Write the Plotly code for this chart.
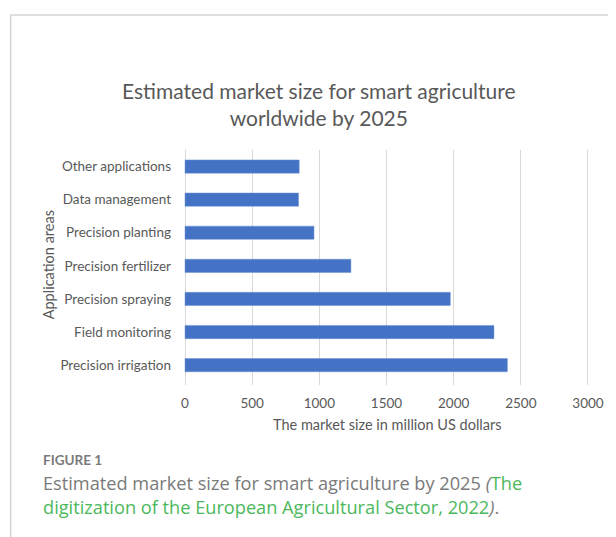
import plotly.graph_objects as go

categories = ["Precision irrigation", "Field monitoring", "Precision spraying",
              "Precision fertilizer", "Precision planting", "Data management",
              "Other applications"]
values = [2400, 2300, 1975, 1235, 960, 845, 850]
x_ticks = [0, 500, 1000, 1500, 2000, 2500, 3000]
x_range = [-30, 3030]

# page has an 8px body margin: figure drawn at offset (8, 8)
OFF = 8
W, H = 616 - OFF, 537 - OFF
ML, MR, MT, MB = 181 - OFF, 20, 150 - OFF, 152
PW, PH = W - ML - MR, H - MT - MB

def px(x):
    return (x - OFF - ML) / PW

def py(y):
    return 1 - (y - OFF - MT) / PH

TXT = "#595959"
FONT = "Lato"

fig = go.Figure(go.Bar(
    x=values, y=categories, orientation="h",
    marker=dict(color="#4472C4", line=dict(color="#6f93d6", width=0.5)),
    width=0.4,
))

fig.update_layout(
    width=W, height=H,
    margin=dict(l=ML, r=MR, t=MT, b=MB),
    paper_bgcolor="white", plot_bgcolor="white",
    showlegend=False,
    font=dict(family=FONT, color=TXT, size=13),
    xaxis=dict(range=x_range, tickvals=x_ticks, ticktext=[str(v) for v in x_ticks],
               showgrid=True, gridcolor="#d9d9d9", gridwidth=1.2, zeroline=False,
               showline=False, ticklabelstandoff=8,
               tickfont=dict(family=FONT, size=13.5, color=TXT)),
    yaxis=dict(categoryorder="array", categoryarray=categories,
               range=[-0.6, 6.5], showgrid=False, zeroline=False,
               showline=False, ticklabelstandoff=9,
               tickfont=dict(family=FONT, size=13.5, color=TXT)),
)

ann = []
ann.append(dict(text="Estimated market size for smart agriculture<br>worldwide by 2025",
                x=px(320), y=py(104), xref="paper", yref="paper",
                xanchor="center", yanchor="middle", showarrow=False,
                font=dict(family=FONT, size=21, color=TXT)))
ann.append(dict(text="The market size in million US dollars",
                x=px(390), y=py(424), xref="paper", yref="paper",
                xanchor="center", yanchor="middle", showarrow=False,
                font=dict(family=FONT, size=14.5, color=TXT)))
ann.append(dict(text="Application areas", textangle=-90,
                x=px(47), y=py(265), xref="paper", yref="paper",
                xanchor="center", yanchor="middle", showarrow=False,
                font=dict(family=FONT, size=14.5, color=TXT)))
ann.append(dict(text="<b>FIGURE 1</b>",
                x=px(40), y=py(460), xref="paper", yref="paper",
                xanchor="left", yanchor="middle", showarrow=False,
                font=dict(family=FONT, size=13.5, color="#7a7a7a")))
GREEN = "#4cb85c"
ann.append(dict(text="Estimated market size for smart agriculture by 2025 <i>(</i>"
                     f"<span style='color:{GREEN}'>The</span>",
                x=px(40), y=py(483), xref="paper", yref="paper",
                xanchor="left", yanchor="middle", showarrow=False,
                font=dict(family="Open Sans", size=18.2, color="#7a7a7a")))
ann.append(dict(text=f"<span style='color:{GREEN}'>digitization of the European Agricultural Sector, 2022</span><i>)</i>.",
                x=px(40), y=py(507), xref="paper", yref="paper",
                xanchor="left", yanchor="middle", showarrow=False,
                font=dict(family="Open Sans", size=18.2, color="#7a7a7a")))
fig.update_layout(annotations=ann)

fig.add_shape(type="line", xref="paper", yref="paper",
              x0=px(9), x1=px(616), y0=py(15), y1=py(15),
              line=dict(color="#d4d4d4", width=1.5))
fig.add_shape(type="line", xref="paper", yref="paper",
              x0=px(9), x1=px(9), y0=py(15), y1=py(537),
              line=dict(color="#d4d4d4", width=1.5))

fig.write_html("out.html")
